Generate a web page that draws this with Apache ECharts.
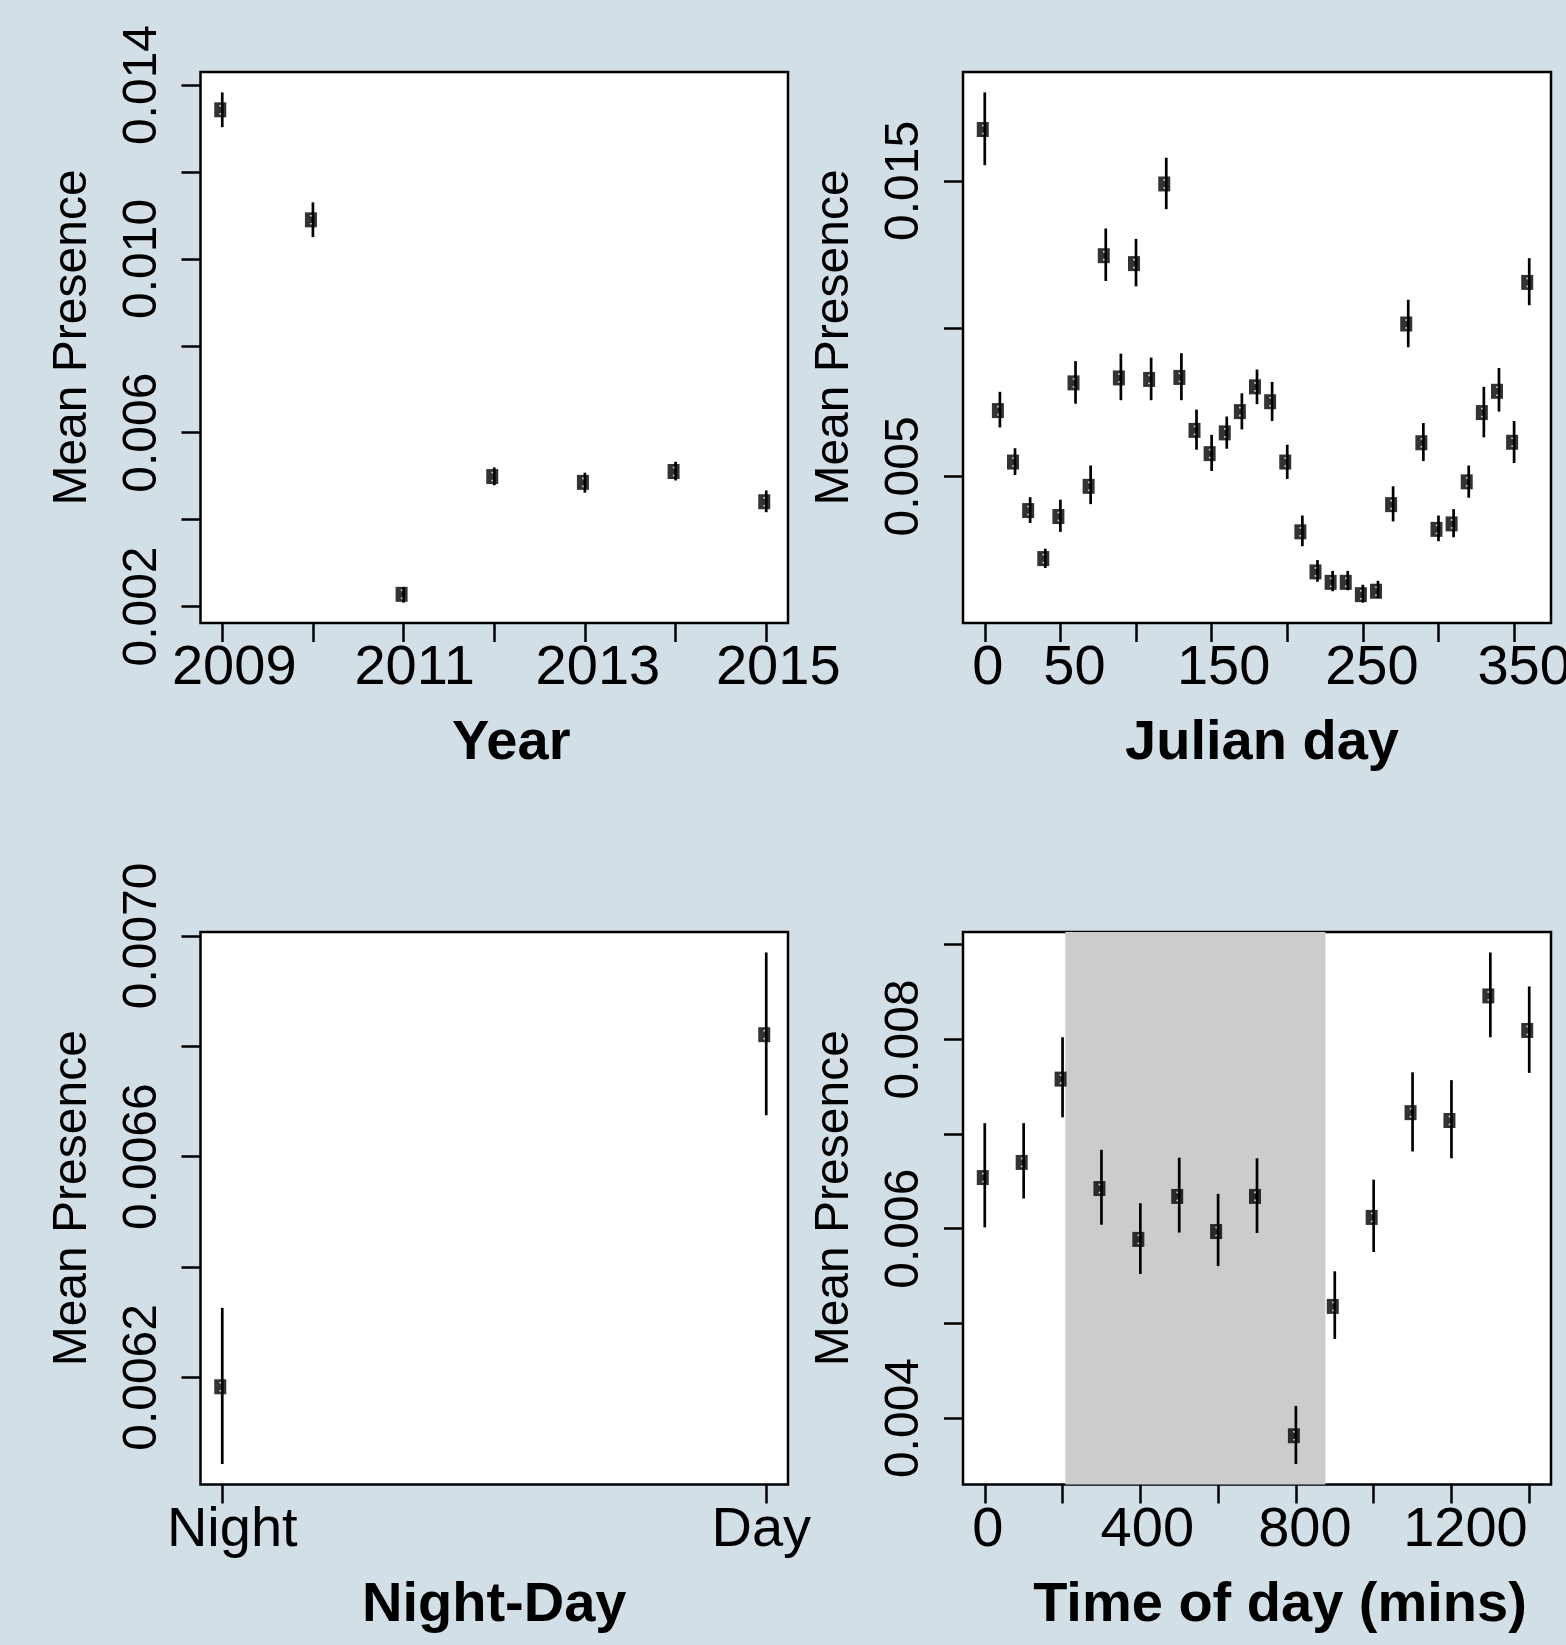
<!DOCTYPE html>
<html><head><meta charset="utf-8">
<script src="https://cdn.jsdelivr.net/npm/echarts@6/dist/echarts.min.js"></script>
<style>html,body{margin:0;padding:0;background:#d2dfe7}#c{width:1566px;height:1645px}</style>
</head><body><div id="c"></div>
<script>
// ---------- Data ----------
const years = [2009, 2010, 2011, 2012, 2013, 2014, 2015];
const yearMean = [0.01343, 0.010898, 0.00228, 0.00499, 0.004856, 0.005106, 0.004411];
const yearLo   = [0.01303, 0.01050, 0.00209, 0.00479, 0.00462, 0.00490, 0.00417];
const yearHi   = [0.01383, 0.01130, 0.00245, 0.00520, 0.00508, 0.00533, 0.00467];

const julianDays = [0,10,20,30,40,50,60,70,80,90,100,110,120,130,140,150,160,170,180,190,200,210,220,230,240,250,260,270,280,290,300,310,320,330,340,350,360];
const julianMean = [0.016742,0.007228,0.005486,0.003844,0.002219,0.003643,0.008166,0.004665,0.012471,0.008333,0.012203,0.008283,0.014899,0.008350,0.006558,0.005771,0.006474,0.007194,0.008032,0.007529,0.005486,0.003124,0.001767,0.001415,0.001415,0.000997,0.001114,0.004045,0.010159,0.006139,0.003208,0.003392,0.004816,0.007161,0.007881,0.006156,0.011566];
const julianLo   = [0.015536,0.006658,0.005050,0.003426,0.001901,0.003124,0.007462,0.004062,0.011616,0.007580,0.011432,0.007580,0.014045,0.007580,0.005905,0.005184,0.005938,0.006591,0.007446,0.006876,0.004916,0.002638,0.001432,0.001114,0.001147,0.000729,0.000879,0.003476,0.009372,0.005519,0.002806,0.002940,0.004280,0.006323,0.007194,0.005452,0.010796];
const julianHi   = [0.017998,0.007864,0.005955,0.004296,0.002554,0.004213,0.008903,0.005369,0.013392,0.009154,0.013040,0.009020,0.015787,0.009171,0.007261,0.006407,0.007027,0.007814,0.008618,0.008199,0.006072,0.003677,0.002169,0.001801,0.001801,0.001332,0.001466,0.004665,0.010980,0.006809,0.003677,0.003894,0.005369,0.008032,0.008668,0.006876,0.012387];

const nightDayNames = ['Night', 'Day'];
const nightDayX = [1, 2];
const nightDayMean = [0.006183, 0.006821];
const nightDayLo   = [0.006043, 0.006675];
const nightDayHi   = [0.006326, 0.006970];

const timeMins = [0,100,200,300,400,500,600,700,800,900,1000,1100,1200,1300,1400];
const timeMean = [0.00654,0.00670,0.00758,0.006424,0.005887,0.006341,0.00597,0.006341,0.003813,0.005179,0.006119,0.007226,0.007143,0.008459,0.008094];
const timeLo   = [0.006014,0.006319,0.007176,0.006042,0.005522,0.005959,0.005605,0.005954,0.003514,0.004836,0.005754,0.006816,0.006744,0.008022,0.007646];
const timeHi   = [0.007115,0.007115,0.008022,0.006833,0.006269,0.006750,0.006368,0.006744,0.004128,0.005550,0.006518,0.007652,0.007569,0.008918,0.008559];
const darkBand = [207, 876];

// tick values (all ticks) and labelled ticks
const yearTicks = [2009,2010,2011,2012,2013,2014,2015];
const yearLabels = [2009,2011,2013,2015];
const yearYTicks = [0.002,0.004,0.006,0.008,0.010,0.012,0.014];
const yearYLabels = [0.002,0.006,0.010,0.014];
const julTicks = [0,50,100,150,200,250,300,350];
const julLabels = [0,50,150,250,350];
const julYTicks = [0.005,0.010,0.015];
const julYLabels = [0.005,0.015];
const ndTicks = [1,2];
const ndYTicks = [0.0062,0.0064,0.0066,0.0068,0.0070];
const ndYLabels = [0.0062,0.0066,0.0070];
const timeTicks = [0,200,400,600,800,1000,1200,1400];
const timeLabels = [0,400,800,1200];
const timeYTicks = [0.004,0.005,0.006,0.007,0.008,0.009];
const timeYLabels = [0.004,0.006,0.008];

// ---------- Styling ----------
const FONT = '"Liberation Sans", Arial, Helvetica, sans-serif';
// horizontal nudges (px) of individual tick label texts, as in the reference
const labelNudge = { '0': 3, '50': 14, '150': 12, '250': 9, '350': 10, 'Night': 10, 'Day': -5, '400': 7, '800': 9, '1200': 14, '2009': 12, '2011': 11, '2013': 13, '2015': 12 };

function rng(a, b) { const r = (b - a) * 0.04; return [a - r, b + r]; }
function yExt(lo, hi) { return rng(Math.min(...lo), Math.max(...hi)); }
function xExt(xs) { return rng(Math.min(...xs), Math.max(...xs)); }

function richFor(texts) {
  const rich = {};
  texts.forEach((t, i) => {
    const s = labelNudge[t] || 0;
    rich['t' + i] = { fontSize: 56, color: '#000', fontFamily: FONT,
      padding: s >= 0 ? [0, 0, 0, 2 * s] : [0, -2 * s, 0, 0] };
  });
  return rich;
}
function xAx(idx, ext, ticks, labels, textOf, name, shift) {
  const texts = labels.map(textOf);
  return {
    type: 'value', gridIndex: idx, min: ext[0], max: ext[1], position: 'bottom',
    axisLine: { show: false, onZero: false }, splitLine: { show: false }, minorTick: { show: false },
    axisTick: { show: true, inside: false, length: 19, lineStyle: { color: '#000', width: 2.5 }, customValues: ticks },
    axisLabel: {
      show: true, customValues: labels, fontSize: 56, color: '#000', fontFamily: FONT, margin: 18,
      formatter: v => { const t = textOf(v); const i = texts.indexOf(t); return '{t' + i + '|' + t + '}'; },
      rich: richFor(texts)
    },
    name: name, nameLocation: 'middle', nameGap: 93,
    nameTextStyle: { fontSize: 56, fontWeight: 'bold', color: '#000', fontFamily: FONT, padding: [0, 0, 0, shift * 2] }
  };
}
function yAx(idx, ext, ticks, labels, dec) {
  return {
    type: 'value', gridIndex: idx, min: ext[0], max: ext[1], position: 'left',
    axisLine: { show: false, onZero: false }, splitLine: { show: false }, minorTick: { show: false },
    axisTick: { show: true, inside: false, length: 19, lineStyle: { color: '#000', width: 2.5 }, customValues: ticks },
    axisLabel: { show: true, customValues: labels, rotate: 90, formatter: v => v.toFixed(dec), fontSize: 48, color: '#000', fontFamily: FONT, margin: 34 },
    name: 'Mean Presence', nameLocation: 'middle', nameGap: 104, nameRotate: 90,
    nameTextStyle: { fontSize: 48, color: '#000', fontFamily: FONT, padding: [0, 0, 0, 20] }
  };
}
function errSeries(idx, xs, lo, hi) {
  return {
    type: 'custom', xAxisIndex: idx, yAxisIndex: idx, z: 3, silent: true, animation: false,
    data: xs.map((x, i) => [x, lo[i], hi[i]]),
    renderItem: function (params, api) {
      const p1 = api.coord([api.value(0), api.value(1)]);
      const p2 = api.coord([api.value(0), api.value(2)]);
      return { type: 'line', shape: { x1: p1[0], y1: p1[1], x2: p2[0], y2: p2[1] }, style: { stroke: '#000', lineWidth: 2.7 } };
    }
  };
}
function ptSeries(idx, xs, mean) {
  return {
    type: 'scatter', xAxisIndex: idx, yAxisIndex: idx, z: 4, silent: true, animation: false,
    symbol: 'rect', symbolSize: [12, 15], symbolOffset: [-2, 0],
    itemStyle: { color: '#000' },
    data: xs.map((x, i) => [x, mean[i]])
  };
}
function dotSeries(idx, xs, mean, dy) {
  return {
    type: 'scatter', xAxisIndex: idx, yAxisIndex: idx, z: 5, silent: true, animation: false,
    symbol: 'rect', symbolSize: [1.6, 1.6], symbolOffset: [-2, dy],
    itemStyle: { color: '#fff' },
    data: xs.map((x, i) => [x, mean[i]])
  };
}
function bandSeries(idx, band, yext) {
  return {
    type: 'custom', xAxisIndex: idx, yAxisIndex: idx, z: 1, silent: true, animation: false,
    data: [[band[0], band[1]]],
    renderItem: function (params, api) {
      const a = api.coord([api.value(0), yext[1]]);
      const b = api.coord([api.value(1), yext[0]]);
      return { type: 'rect', shape: { x: a[0], y: a[1], width: b[0] - a[0], height: b[1] - a[1] }, style: { fill: '#cccccc' } };
    }
  };
}
const gridBase = { show: true, backgroundColor: '#fff', borderColor: '#000', borderWidth: 2.5, containLabel: false, outerBoundsMode: 'none' };

const timeYExt = yExt(timeLo, timeHi);
const option = {
  backgroundColor: '#d2dfe7',
  animation: false,
  grid: [
    Object.assign({ left: 200.5, top: 72, width: 587.5, height: 551 }, gridBase),
    Object.assign({ left: 963, top: 72, width: 588, height: 551 }, gridBase),
    Object.assign({ left: 200.5, top: 932, width: 587.5, height: 552.5 }, gridBase),
    Object.assign({ left: 963, top: 932, width: 588, height: 552.5 }, gridBase)
  ],
  xAxis: [
    xAx(0, xExt(years), yearTicks, yearLabels, v => String(Math.round(v)), 'Year', 17),
    xAx(1, xExt(julianDays), julTicks, julLabels, v => String(Math.round(v)), 'Julian day', 5),
    xAx(2, xExt(nightDayX), ndTicks, ndTicks, v => nightDayNames[Math.round(v) - 1], 'Night-Day', 0),
    xAx(3, xExt(timeMins), timeTicks, timeLabels, v => String(Math.round(v)), 'Time of day (mins)', 23)
  ],
  yAxis: [
    yAx(0, yExt(yearLo, yearHi), yearYTicks, yearYLabels, 3),
    yAx(1, yExt(julianLo, julianHi), julYTicks, julYLabels, 3),
    yAx(2, yExt(nightDayLo, nightDayHi), ndYTicks, ndYLabels, 4),
    yAx(3, timeYExt, timeYTicks, timeYLabels, 3)
  ],
  series: [
    bandSeries(3, darkBand, timeYExt),
    errSeries(0, years, yearLo, yearHi), ptSeries(0, years, yearMean),
    dotSeries(0, years, yearMean, -4), dotSeries(0, years, yearMean, 4),
    errSeries(1, julianDays, julianLo, julianHi), ptSeries(1, julianDays, julianMean),
    dotSeries(1, julianDays, julianMean, -4), dotSeries(1, julianDays, julianMean, 4),
    errSeries(2, nightDayX, nightDayLo, nightDayHi), ptSeries(2, nightDayX, nightDayMean),
    dotSeries(2, nightDayX, nightDayMean, -4), dotSeries(2, nightDayX, nightDayMean, 4),
    errSeries(3, timeMins, timeLo, timeHi), ptSeries(3, timeMins, timeMean),
    dotSeries(3, timeMins, timeMean, -4), dotSeries(3, timeMins, timeMean, 4)
  ]
};
const chart = echarts.init(document.getElementById('c'), null, { renderer: 'canvas' });
chart.setOption(option);
</script></body></html>
